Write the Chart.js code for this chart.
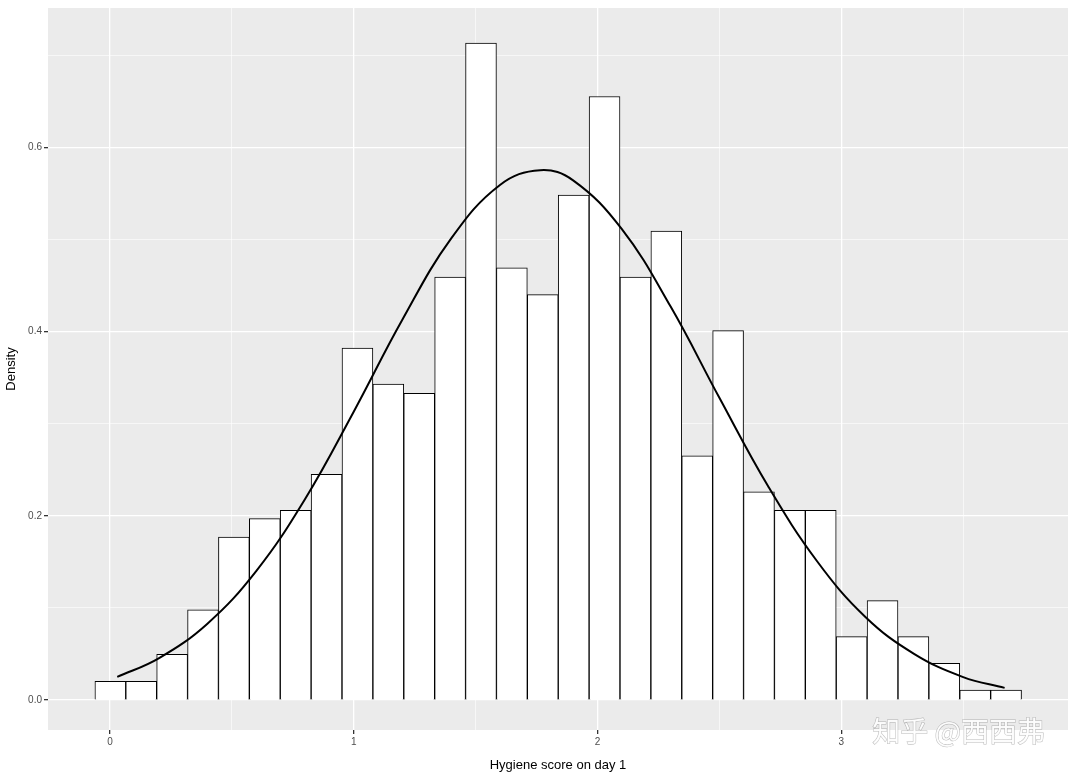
<!DOCTYPE html>
<html><head><meta charset="utf-8">
<script src="https://cdn.jsdelivr.net/npm/chart.js@4"></script>
<style>body{margin:0;background:#fff}</style></head>
<body><canvas id="c" width="1075" height="777"></canvas>
<script>
const binStart = -0.0616, binWidth = 0.1267;
const densities = [0.0205,0.0205,0.0497,0.098,0.177,0.197,0.206,0.245,0.382,0.343,0.333,0.459,0.713,0.469,0.440,0.548,0.655,0.459,0.509,0.265,0.401,0.226,0.206,0.206,0.069,0.108,0.069,0.040,0.0108,0.0108];
const curveX = [0.03,0.2,0.4,0.6,0.8,1.0,1.2,1.4,1.6,1.765,1.9,2.1,2.3,2.5,2.7,2.9,3.1,3.3,3.5,3.67];
const curveY = [0.0252,0.0453,0.083,0.140,0.218,0.313,0.413,0.501,0.559,0.575,0.564,0.511,0.427,0.328,0.232,0.151,0.090,0.050,0.025,0.0133];
const xTicks = [0,1,2,3];
const yTicks = [0.0,0.2,0.4,0.6];

const bars = densities.map((d,i)=>({x: binStart + binWidth*(i+0.5), y: d}));
const curve = curveX.map((x,i)=>({x, y: curveY[i]}));

const bg = {id:'bg', beforeDraw(c){const a=c.chartArea,ctx=c.ctx;ctx.save();ctx.fillStyle='#EBEBEB';ctx.fillRect(a.left,a.top,a.right-a.left,a.bottom-a.top);ctx.restore();},
 afterDraw(c){const ctx=c.ctx;ctx.save();ctx.font='28px "Noto Sans CJK SC"';ctx.fillStyle='rgba(255,255,255,0.9)';ctx.strokeStyle='rgba(120,120,120,0.5)';ctx.lineWidth=1;ctx.textAlign='right';ctx.strokeText('知乎 @西西弗',1045,742);ctx.fillText('知乎 @西西弗',1045,742);ctx.restore();}};

const isMajor=(v,list)=>list.some(t=>Math.abs(t-v)<1e-9);
const tv=c=>c && c.tick ? c.tick.value : NaN;
new Chart(document.getElementById('c'),{
 data:{datasets:[
  {type:'line',data:curve,borderColor:'#000',borderWidth:2,pointRadius:0,tension:0.4,fill:false},
  {type:'bar',data:bars,backgroundColor:'#fff',borderColor:'#000',borderWidth:1,barPercentage:1,categoryPercentage:1,grouped:false}
 ]},
 options:{responsive:false,animation:false,
  layout:{padding:{top:5,right:7,left:0,bottom:0}},
  plugins:{legend:{display:false},tooltip:{enabled:false}},
  scales:{
   x:{type:'linear',min:-0.254,max:3.93,offset:false,
    afterBuildTicks(s){s.ticks=[0,0.5,1,1.5,2,2.5,3,3.5].map(v=>({value:v}));},
    afterFit(s){s.height=47;},
    ticks:{autoSkip:false,maxRotation:0,padding:2,color:'#4D4D4D',font:{size:10,family:'Liberation Sans'},callback:v=>isMajor(v,xTicks)?String(v):''},
    grid:{offset:false,color:'#fff',lineWidth:c=>isMajor(tv(c),xTicks)?1.3:0.6,tickLength:4,tickColor:c=>isMajor(tv(c),xTicks)?'#333':'rgba(0,0,0,0)'},
    border:{display:false},
    title:{display:true,text:'Hygiene score on day 1',color:'#000',font:{size:13,family:'Liberation Sans'},padding:{top:2}}
   },
   y:{type:'linear',min:-0.0324,max:0.751,
    afterBuildTicks(s){s.ticks=[0,0.1,0.2,0.3,0.4,0.5,0.6,0.7].map(v=>({value:v}));},
    afterFit(s){s.width=48;},
    ticks:{autoSkip:false,padding:2,color:'#4D4D4D',font:{size:10,family:'Liberation Sans'},callback:v=>isMajor(v,yTicks)?v.toFixed(1):''},
    grid:{color:'#fff',lineWidth:c=>isMajor(tv(c),yTicks)?1.3:0.6,tickLength:4,tickColor:c=>isMajor(tv(c),yTicks)?'#333':'rgba(0,0,0,0)'},
    border:{display:false},
    title:{display:true,text:'Density',color:'#000',font:{size:13,family:'Liberation Sans'},padding:{bottom:4}}
   }
  }
 },
 plugins:[bg]
});
</script></body></html>
